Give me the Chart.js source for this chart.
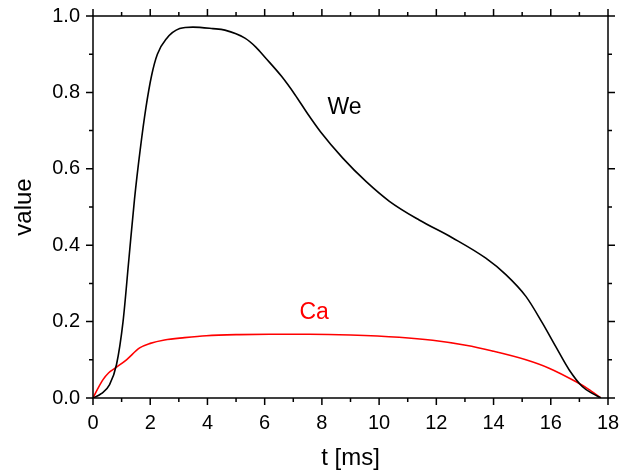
<!DOCTYPE html>
<html>
<head>
<meta charset="utf-8">
<script src="https://cdn.jsdelivr.net/npm/chart.js@4/dist/chart.umd.min.js"></script>
<style>
  html, body { margin: 0; padding: 0; background: #fff; }
  #wrap { width: 631px; height: 470px; }
</style>
</head>
<body>
<div id="wrap"><canvas id="chart"></canvas></div>
<script>
// curve samples, t in ms
const weT = [0, 0.3, 0.58, 0.82, 1.05, 1.25, 1.45, 1.65, 1.85, 2.05, 2.25, 2.56, 3.03, 3.49, 4.19, 4.61, 5.31, 5.7, 6.01, 6.59, 7.06, 7.52, 7.95, 8.73, 9.54, 10.36, 11.4, 12.57, 13.73, 14.43, 15.13, 15.71, 16.17, 16.64, 17.1, 17.45, 17.75];
const weV = [0, 0.012, 0.035, 0.087, 0.2, 0.36, 0.52, 0.65, 0.76, 0.845, 0.9, 0.94, 0.967, 0.971, 0.967, 0.963, 0.942, 0.918, 0.892, 0.842, 0.794, 0.742, 0.697, 0.628, 0.567, 0.515, 0.466, 0.419, 0.366, 0.323, 0.266, 0.196, 0.135, 0.074, 0.03, 0.012, 0];
const caT = [0, 0.15, 0.35, 0.55, 0.75, 1.17, 1.63, 2.0, 2.5, 3.2, 3.96, 5.12, 6.17, 7.56, 9.0, 10.7, 11.87, 13.03, 13.96, 15.13, 15.94, 16.87, 17.3, 17.75];
const caV = [0, 0.022, 0.048, 0.066, 0.077, 0.1, 0.131, 0.143, 0.152, 0.158, 0.163, 0.166, 0.167, 0.167, 0.165, 0.159, 0.151, 0.138, 0.123, 0.1, 0.078, 0.043, 0.024, 0];

const xTicks = [0, 2, 4, 6, 8, 10, 12, 14, 16, 18];
const yTicks = [0, 0.2, 0.4, 0.6, 0.8, 1.0];

const FONT = "'Liberation Sans', Arial, sans-serif";

function toPoints(xs, ys) {
    return xs.map((x, i) => ({ x: x, y: ys[i] }));
}

// draws the box with outward ticks on all four sides (major + minor)
const frameTicks = {
    id: 'frameTicks',
    afterDraw: function(chart) {
        const ctx = chart.ctx;
        const a = chart.chartArea;
        const xs = chart.scales.x, ys = chart.scales.y;
        ctx.save();
        ctx.strokeStyle = '#000';
        ctx.lineWidth = 1.5;
        ctx.strokeRect(a.left, a.top, a.right - a.left, a.bottom - a.top);
        ctx.beginPath();
        for (let t = 0; t <= 18; t++) {
            const px = xs.getPixelForValue(t);
            const len = t % 2 === 0 ? 7 : 4;
            ctx.moveTo(px, a.bottom); ctx.lineTo(px, a.bottom + len);
            ctx.moveTo(px, a.top); ctx.lineTo(px, a.top - len);
        }
        for (let k = 0; k <= 10; k++) {
            const py = ys.getPixelForValue(k / 10);
            const len = k % 2 === 0 ? 7 : 4;
            ctx.moveTo(a.left, py); ctx.lineTo(a.left - len, py);
            ctx.moveTo(a.right, py); ctx.lineTo(a.right + len, py);
        }
        ctx.stroke();

        // curve labels
        ctx.font = '23px ' + FONT;
        ctx.textAlign = 'center';
        ctx.textBaseline = 'middle';
        ctx.fillStyle = '#000';
        ctx.fillText('We', xs.getPixelForValue(8.79), ys.getPixelForValue(0.76));
        ctx.fillStyle = '#ff0000';
        ctx.fillText('Ca', xs.getPixelForValue(7.73), ys.getPixelForValue(0.223));
        ctx.restore();
    }
};

new Chart(document.getElementById('chart'), {
    type: 'line',
    data: {
        datasets: [{
            label: 'We',
            data: toPoints(weT, weV),
            borderColor: '#000000',
            borderWidth: 1.6,
            pointRadius: 0,
            cubicInterpolationMode: 'monotone',
            fill: false
        }, {
            label: 'Ca',
            data: toPoints(caT, caV),
            borderColor: '#ff0000',
            borderWidth: 1.6,
            pointRadius: 0,
            cubicInterpolationMode: 'monotone',
            fill: false
        }]
    },
    options: {
        responsive: true,
        maintainAspectRatio: false,
        animation: false,
        layout: { padding: { left: 0, right: 23, top: 16, bottom: 0 } },
        plugins: {
            legend: { display: false },
            tooltip: { enabled: false }
        },
        scales: {
            x: {
                type: 'linear',
                min: 0,
                max: 18,
                afterFit: function(scale) { scale.height = 72; },
                afterBuildTicks: function(scale) { scale.ticks = xTicks.map(v => ({ value: v })); },
                grid: { display: false, drawTicks: true, tickLength: 13 },
                border: { display: false },
                ticks: {
                    color: '#000',
                    padding: 0,
                    maxRotation: 0,
                    font: { family: FONT, size: 20 }
                },
                title: {
                    display: true,
                    text: 't [ms]',
                    color: '#000',
                    padding: { top: 0, bottom: 0 },
                    font: { family: FONT, size: 24, lineHeight: 1 }
                }
            },
            y: {
                type: 'linear',
                min: 0,
                max: 1.0,
                afterFit: function(scale) { scale.width = 93; },
                afterBuildTicks: function(scale) { scale.ticks = yTicks.map(v => ({ value: v })); },
                grid: { display: false, drawTicks: true, tickLength: 13 },
                border: { display: false },
                ticks: {
                    color: '#000',
                    padding: 0,
                    font: { family: FONT, size: 20 },
                    callback: function(v) { return Number(v).toFixed(1); }
                },
                title: {
                    display: true,
                    text: 'value',
                    color: '#000',
                    padding: { top: 10, bottom: 0 },
                    font: { family: FONT, size: 24 }
                }
            }
        }
    },
    plugins: [frameTicks]
});
</script>
</body>
</html>
